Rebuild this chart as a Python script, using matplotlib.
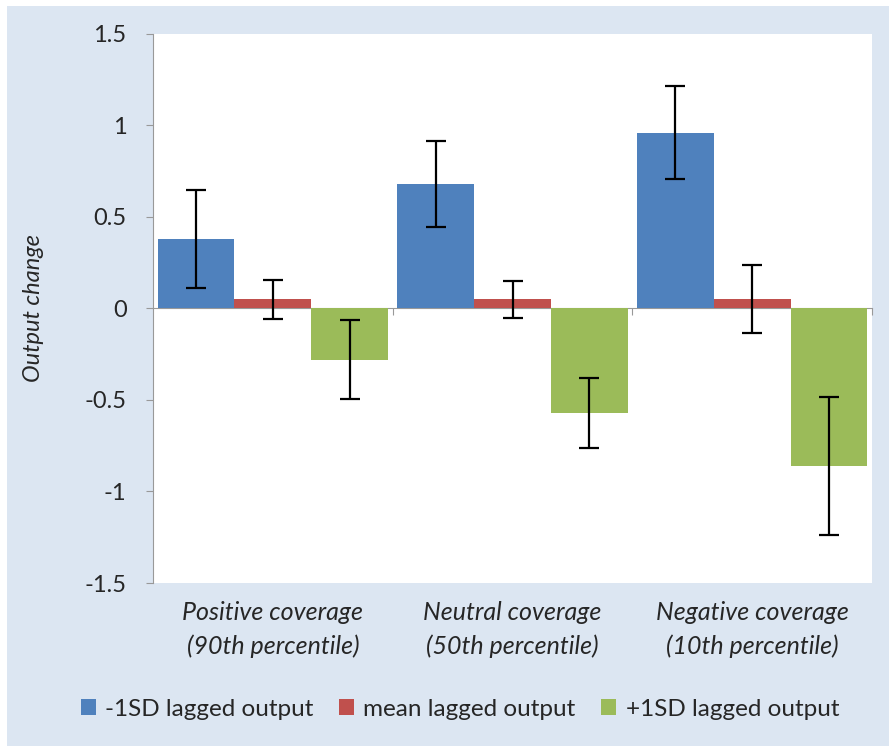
import matplotlib.pyplot as plt
import numpy as np
from matplotlib.patches import Rectangle
from matplotlib.transforms import blended_transform_factory

# data
categories = ['Positive coverage\n(90th percentile)',
              'Neutral coverage\n(50th percentile)',
              'Negative coverage\n(10th percentile)']
series_names = ['-1SD lagged output', 'mean lagged output', '+1SD lagged output']
minus_sd = [0.38, 0.68, 0.96]
minus_sd_err = [0.27, 0.235, 0.255]
mean_out = [0.05, 0.05, 0.05]
mean_out_err = [0.105, 0.10, 0.185]
plus_sd = [-0.28, -0.57, -0.86]
plus_sd_err = [0.215, 0.19, 0.375]
yticks = [-1.5, -1, -0.5, 0, 0.5, 1, 1.5]
ytick_labels = ['-1.5', '-1', '-0.5', '0', '0.5', '1', '1.5']

colors = ['#4F81BD', '#C0504D', '#9BBB59']
txt = '#262626'

plt.rcParams['font.family'] = ['Lato', 'DejaVu Sans']

fig = plt.figure(figsize=(8.89, 7.46), dpi=100, facecolor='white')
# light blue chart background, inset slightly from the top and left
fig.patches.append(Rectangle((7 / 889, 0), 1, 1 - 6 / 746, transform=fig.transFigure,
                             facecolor='#DCE6F2', edgecolor='none', zorder=-10))

ax = fig.add_axes([153 / 889, 1 - 583 / 746, 719 / 889, 549 / 746])
ax.set_facecolor('white')

x = np.arange(len(categories))
w = 0.32
vals = [minus_sd, mean_out, plus_sd]
errs = [minus_sd_err, mean_out_err, plus_sd_err]
for i in range(3):
    ax.bar(x + (i - 1) * w, vals[i], width=w, color=colors[i], label=series_names[i],
           yerr=errs[i], error_kw=dict(ecolor='black', elinewidth=1.6, capsize=7.5, capthick=1.6),
           zorder=2)

ax.set_xlim(-0.5, 2.5)
ax.set_ylim(-1.5, 1.5)
ax.set_yticks(yticks)
ax.set_yticklabels(ytick_labels, fontsize=17, color=txt)

for s in ['top', 'right']:
    ax.spines[s].set_visible(False)
ax.spines['left'].set_color('#999999')
ax.spines['bottom'].set_color('#999999')
ax.spines['bottom'].set_position(('data', 0))
ax.spines['bottom'].set_zorder(1)
ax.tick_params(axis='y', direction='out', length=5, color='#999999', pad=14)
ax.set_xticks([0.5, 1.5, 2.5])
ax.tick_params(axis='x', direction='out', length=5, color='#999999', labelbottom=False)

# category names sit below the plot area, not on the zero line
trans = blended_transform_factory(ax.transData, ax.transAxes)
for xi, cat in zip(x, categories):
    ax.text(xi, -0.032, cat, transform=trans, ha='center', va='top', fontsize=18,
            style='italic', color=txt, linespacing=1.55)

ax.set_ylabel('Output change', fontsize=17, style='italic', color=txt)
ax.yaxis.set_label_coords(-0.152, 0.5)

fig.legend(loc='center', bbox_to_anchor=(460 / 889, 1 - 709 / 746), ncol=3, frameon=False,
           fontsize=17.5, handlelength=0.6, handleheight=0.6, handletextpad=0.4,
           columnspacing=1.05, labelcolor=txt)

fig.savefig('out.png', dpi=100, facecolor=fig.get_facecolor())
